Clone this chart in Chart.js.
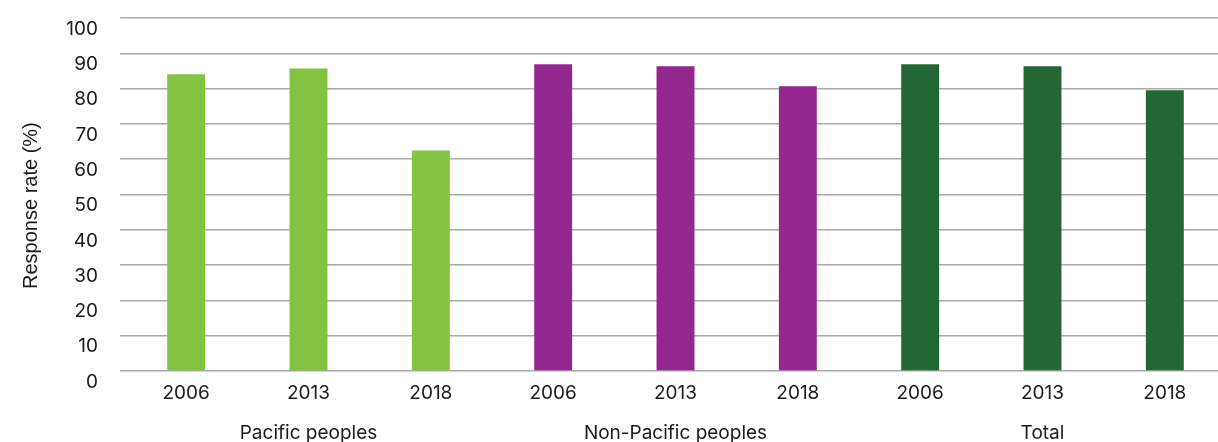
<!DOCTYPE html>
<html>
<head>
<meta charset="utf-8">
<script src="https://cdn.jsdelivr.net/npm/chart.js@4"></script>
<style>
  html, body { margin: 0; padding: 0; background: #fff; overflow: hidden; }
  #wrap { position: relative; width: 1226px; height: 442px; }
</style>
</head>
<body>
<div id="wrap"><canvas id="chart"></canvas></div>
<script>
// Census response rates by group and year
const years = ['2006', '2013', '2018'];
const groups = ['Pacific peoples', 'Non-Pacific peoples', 'Total'];
const pacificValues = [84.1, 85.7, 62.5];
const nonPacificValues = [86.9, 86.3, 80.7];
const totalValues = [86.9, 86.3, 79.5];
const groupColors = ['#84c341', '#93278f', '#236734'];
const yTicks = [0, 10, 20, 30, 40, 50, 60, 70, 80, 90, 100];

const groupValues = [pacificValues, nonPacificValues, totalValues];

// one category per bar; group name goes on a second line under the middle year
const labels = [];
const values = [];
const colors = [];
groups.forEach((group, g) => {
  years.forEach((year, i) => {
    labels.push([year, i === 1 ? group : '']);
    values.push(groupValues[g][i]);
    colors.push(groupColors[g]);
  });
});

const tickFont = { family: 'Inter', size: 19, lineHeight: 40 / 19 };
const gridColor = '#aaaaaa';

new Chart(document.getElementById('chart').getContext('2d'), {
  type: 'bar',
  data: {
    labels,
    datasets: [{
      data: values,
      backgroundColor: colors,
      borderWidth: 0,
      categoryPercentage: 1,
      barPercentage: 0.31
    }]
  },
  options: {
    responsive: true,
    maintainAspectRatio: false,
    animation: false,
    layout: { padding: { top: 18, right: 0, bottom: 0, left: 0 } },
    plugins: {
      legend: { display: false },
      tooltip: { enabled: false }
    },
    scales: {
      x: {
        grid: { display: false, drawTicks: false },
        border: { display: false },
        ticks: {
          font: tickFont,
          color: '#1a1a1a',
          padding: 2,
          maxRotation: 0,
          autoSkip: false
        },
        afterFit: scale => {
          scale.height = 71;
          scale.paddingTop = 0;
          scale.paddingBottom = 0;
        }
      },
      y: {
        min: 0,
        max: 100,
        afterBuildTicks: scale => { scale.ticks = yTicks.map(v => ({ value: v })); },
        grid: {
          color: gridColor,
          lineWidth: 1.5,
          drawTicks: true,
          tickLength: 5,
          tickColor: gridColor
        },
        border: { display: false },
        ticks: {
          font: { family: 'Inter', size: 19 },
          color: '#1a1a1a',
          padding: 22,
          labelOffset: 11
        },
        title: {
          display: true,
          text: 'Response rate (%)    ',
          font: { family: 'Liberation Sans', size: 20, lineHeight: 1.2 },
          color: '#1a1a1a',
          padding: { top: 19, bottom: 0 }
        },
        afterFit: scale => {
          scale.width = 125;
          scale.paddingTop = 0;
          scale.paddingBottom = 0;
        }
      }
    }
  }
});
</script>
</body>
</html>
